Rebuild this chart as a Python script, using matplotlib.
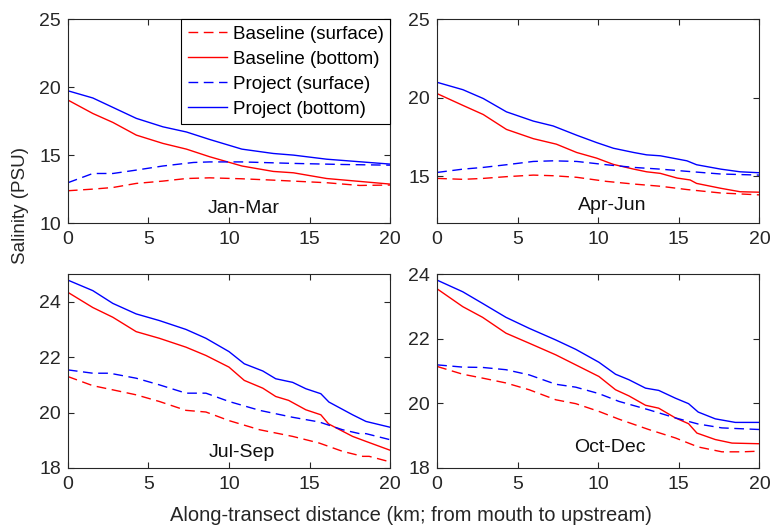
import matplotlib
matplotlib.use("Agg")
import matplotlib.pyplot as plt

plt.rcParams['font.family'] = ['Liberation Sans', 'DejaVu Sans']

seasons = ["Jan-Mar", "Apr-Jun", "Jul-Sep", "Oct-Dec"]
ylims = [(10, 25), (12, 25), (18, 25), (18, 24)]
yticks = [[10, 15, 20, 25], [15, 20, 25], [18, 20, 22, 24], [18, 20, 22, 24]]

# Jan-Mar
jm_x_pb = [0, 1.55, 4.25, 5.9, 7.36, 8.8, 10.8, 12.75, 14, 16.06, 20]
jm_pb = [19.73, 19.2, 17.7, 17.08, 16.7, 16.15, 15.44, 15.12, 15.0, 14.7, 14.34]
jm_x_bb = [0, 1.55, 2.8, 4.25, 5.9, 7.36, 8.8, 10.8, 12.75, 14, 16.06, 20]
jm_bb = [19.05, 18.06, 17.4, 16.47, 15.86, 15.44, 14.88, 14.2, 13.8, 13.7, 13.28, 12.87]
jm_x_ps = [0, 1.55, 2.8, 4.25, 5.9, 7.8, 8.8, 10.8, 14, 17.1, 20]
jm_ps = [12.97, 13.65, 13.65, 13.9, 14.2, 14.46, 14.5, 14.5, 14.39, 14.31, 14.26]
jm_x_bs = [0, 1.55, 2.8, 4.25, 5.9, 7.36, 8.8, 10.8, 12.75, 16.06, 18.1, 20]
jm_bs = [12.38, 12.5, 12.62, 12.92, 13.09, 13.28, 13.33, 13.26, 13.16, 12.97, 12.77, 12.8]

# Apr-Jun
aj_x_pb = [0, 1.6, 2.86, 4.3, 5.97, 7.2, 8.66, 9.9, 10.94, 12.2, 13, 13.85, 15.5, 16.1, 17.6, 18.8, 20]
aj_pb = [20.97, 20.5, 19.94, 19.09, 18.5, 18.19, 17.6, 17.13, 16.77, 16.5, 16.35, 16.29, 15.97, 15.72, 15.44, 15.27, 15.21]
aj_x_bb = [0, 1.6, 2.86, 4.3, 5.97, 7.4, 8.66, 9.9, 10.94, 12.2, 13, 13.85, 14.9, 15.7, 16.1, 17.6, 18.8, 20]
aj_bb = [20.25, 19.5, 18.92, 17.97, 17.38, 17.03, 16.5, 16.14, 15.74, 15.44, 15.27, 15.17, 14.87, 14.75, 14.53, 14.22, 14.0, 13.97]
aj_x_ps = [0, 1.6, 2.86, 4.3, 5.97, 7.2, 8.66, 10.5, 12.2, 13.85, 15.5, 17.6, 20]
aj_ps = [15.23, 15.44, 15.55, 15.72, 15.93, 15.97, 15.93, 15.72, 15.55, 15.44, 15.3, 15.13, 15.06]
aj_x_bs = [0, 1.6, 2.86, 4.3, 5.97, 7.2, 8.66, 10.5, 12.2, 13.85, 15.5, 17.6, 20]
aj_bs = [14.85, 14.79, 14.85, 14.96, 15.06, 15.02, 14.92, 14.66, 14.49, 14.35, 14.14, 13.92, 13.8]

# Jul-Sep
js_x_pb = [0, 1.55, 2.79, 4.24, 5.68, 7.33, 8.57, 10.0, 10.95, 12.1, 12.9, 13.95, 14.77, 15.7, 16.2, 17.67, 18.5, 20]
js_pb = [24.78, 24.4, 23.94, 23.56, 23.32, 23.0, 22.68, 22.2, 21.76, 21.5, 21.22, 21.09, 20.86, 20.68, 20.38, 19.92, 19.68, 19.47]
js_x_bb = [0, 1.55, 2.79, 4.24, 5.68, 7.33, 8.57, 10.0, 10.95, 12.1, 12.9, 13.7, 14.77, 15.7, 16.18, 17.67, 18.5, 20]
js_bb = [24.34, 23.79, 23.44, 22.92, 22.68, 22.36, 22.06, 21.64, 21.16, 20.88, 20.58, 20.44, 20.1, 19.92, 19.59, 19.14, 18.96, 18.64]
js_x_ps = [0, 1.55, 2.6, 4.24, 5.68, 7.33, 8.57, 10.0, 11.9, 13.95, 15.6, 17.05, 18.1, 18.5, 20]
js_ps = [21.54, 21.42, 21.42, 21.24, 21.0, 20.7, 20.7, 20.4, 20.08, 19.83, 19.66, 19.38, 19.24, 19.24, 19.02]
js_x_bs = [0, 1.55, 2.79, 4.24, 5.68, 7.33, 8.57, 10.0, 11.9, 13.95, 15.6, 17.05, 18.3, 18.7, 20]
js_bs = [21.3, 20.97, 20.82, 20.64, 20.4, 20.08, 20.02, 19.71, 19.38, 19.14, 18.9, 18.6, 18.42, 18.42, 18.22]

# Oct-Dec
od_x_pb = [0, 1.59, 2.82, 4.27, 5.71, 7.36, 8.6, 10.04, 11.07, 11.9, 12.93, 13.75, 14.78, 15.6, 16.2, 17.26, 18.5, 20]
od_pb = [23.81, 23.45, 23.09, 22.66, 22.32, 21.96, 21.67, 21.27, 20.9, 20.73, 20.47, 20.4, 20.16, 19.99, 19.73, 19.52, 19.41, 19.41]
od_x_bb = [0, 1.59, 2.82, 4.27, 5.71, 7.36, 8.6, 10.04, 11.07, 11.9, 12.93, 13.75, 14.78, 15.6, 16.12, 17.26, 18.3, 20]
od_bb = [23.54, 22.99, 22.66, 22.17, 21.86, 21.5, 21.19, 20.83, 20.42, 20.23, 19.94, 19.85, 19.55, 19.37, 19.08, 18.88, 18.77, 18.75]
od_x_ps = [0, 1.59, 2.82, 4.27, 5.71, 7.36, 8.6, 10.04, 11.28, 13.13, 14.78, 16.2, 17.67, 20]
od_ps = [21.19, 21.12, 21.11, 21.04, 20.88, 20.59, 20.5, 20.3, 20.06, 19.8, 19.55, 19.36, 19.24, 19.19]
od_x_bs = [0, 1.59, 2.82, 4.27, 5.71, 7.36, 8.6, 10.04, 11.28, 13.13, 14.78, 16.2, 17.67, 18.9, 20]
od_bs = [21.14, 20.9, 20.78, 20.63, 20.42, 20.11, 19.99, 19.75, 19.51, 19.19, 18.93, 18.65, 18.5, 18.5, 18.52]

panels = [
    (jm_x_bs, jm_bs, jm_x_bb, jm_bb, jm_x_ps, jm_ps, jm_x_pb, jm_pb),
    (aj_x_bs, aj_bs, aj_x_bb, aj_bb, aj_x_ps, aj_ps, aj_x_pb, aj_pb),
    (js_x_bs, js_bs, js_x_bb, js_bb, js_x_ps, js_ps, js_x_pb, js_pb),
    (od_x_bs, od_bs, od_x_bb, od_bb, od_x_ps, od_ps, od_x_pb, od_pb),
]

fig = plt.figure(figsize=(7.71, 5.30), dpi=100)
rects = [
    [0.088, 0.579, 0.418, 0.385],
    [0.567, 0.579, 0.418, 0.385],
    [0.088, 0.117, 0.418, 0.366],
    [0.567, 0.117, 0.418, 0.366],
]
label_pos = [(0.547, 0.074), (0.544, 0.085), (0.539, 0.079), (0.535, 0.105)]
axc = '#262626'
lw = 1.0
dash = (7, 4)

for i, rect in enumerate(rects):
    ax = fig.add_axes(rect)
    xbs, bs, xbb, bb, xps, ps, xpb, pb = panels[i]
    ax.plot(xbs, bs, color='#ff0000', lw=lw, dashes=dash, label='Baseline (surface)')
    ax.plot(xbb, bb, color='#ff0000', lw=lw, label='Baseline (bottom)')
    ax.plot(xps, ps, color='#0000ff', lw=lw, dashes=dash, label='Project (surface)')
    ax.plot(xpb, pb, color='#0000ff', lw=lw, label='Project (bottom)')
    ax.set_xlim(0, 20)
    ax.set_ylim(*ylims[i])
    ax.set_xticks([0, 5, 10, 15, 20])
    ax.set_yticks(yticks[i])
    ax.tick_params(direction='in', top=True, right=True, length=4, width=0.8,
                   labelsize=14, colors=axc)
    ax.tick_params(axis='x', pad=6)
    ax.tick_params(axis='y', pad=5)
    for s in ax.spines.values():
        s.set_color(axc)
        s.set_linewidth(0.8)
    lx, ly = label_pos[i]
    ax.text(lx, ly, seasons[i], transform=ax.transAxes, ha='center',
            va='center', fontsize=14, color='#111111')
    if i == 0:
        leg = ax.legend(loc='upper right', fontsize=13.5, frameon=True, fancybox=False,
                        borderaxespad=0, handlelength=2.1, labelspacing=0.42,
                        borderpad=0.35, handletextpad=0.3, framealpha=1)
        leg.get_frame().set_edgecolor('#000000')
        leg.get_frame().set_linewidth(0.8)

fig.text(0.026, 0.613, 'Salinity (PSU)', rotation=90, ha='center', va='center',
         fontsize=13.5, color=axc)
fig.text(0.533, 0.028, 'Along-transect distance (km; from mouth to upstream)',
         ha='center', va='center', fontsize=14.5, color=axc)

fig.savefig('out.png', dpi=100)
